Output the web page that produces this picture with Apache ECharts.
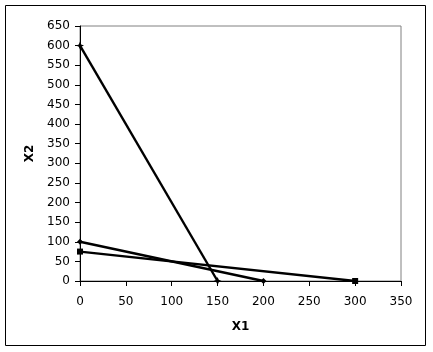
<!DOCTYPE html>
<html><head><meta charset="utf-8">
<script src="https://cdn.jsdelivr.net/npm/echarts@6/dist/echarts.min.js"></script>
<style>html,body{margin:0;padding:0;background:#fff}#c{width:433px;height:352px}</style>
</head><body><div id="c"></div>
<script>
const xTicks = [0, 50, 100, 150, 200, 250, 300, 350];
const yTicks = [0, 50, 100, 150, 200, 250, 300, 350, 400, 450, 500, 550, 600, 650];
const line1X = [0, 150];
const line1Y = [600, 0];
const line2X = [0, 200];
const line2Y = [100, 0];
const line3X = [0, 300];
const line3Y = [75, 0];

const chart = echarts.init(document.getElementById('c'));
const font = 'DejaVu Sans';
function pts(xs, ys){ return xs.map((x,i)=>[x, ys[i]]); }
const lineStyle = {color:'#000', width:2.4};
chart.setOption({
  animation:false,
  graphic:[{type:'rect', shape:{x:5.5,y:5.5,width:420,height:340}, style:{fill:'none', stroke:'#000', lineWidth:1}}],
  grid:{left:80, top:26, right:32, bottom:71, show:true, borderColor:'#808080', borderWidth:1},
  xAxis:{type:'value', min:xTicks[0], max:xTicks[xTicks.length-1], interval:50,
    name:'X1', nameLocation:'middle', nameGap:40,
    nameTextStyle:{fontFamily:font, fontSize:12, fontWeight:'bold', color:'#000'},
    axisLine:{show:true, lineStyle:{color:'#000'}},
    axisTick:{show:true, length:5, lineStyle:{color:'#000'}},
    axisLabel:{fontFamily:font, fontSize:12, color:'#000', margin:15},
    splitLine:{show:false}},
  yAxis:{type:'value', min:yTicks[0], max:yTicks[yTicks.length-1], interval:50,
    name:'X2', nameLocation:'middle', nameGap:43, nameRotate:90,
    nameTextStyle:{fontFamily:font, fontSize:12, fontWeight:'bold', color:'#000'},
    axisLine:{show:true, lineStyle:{color:'#000'}},
    axisTick:{show:true, length:5, lineStyle:{color:'#000'}},
    axisLabel:{fontFamily:font, fontSize:12, color:'#000', margin:10},
    splitLine:{show:false}},
  series:[
    {type:'line', data:pts(line1X,line1Y), symbol:'path://M0,-1L0.3,-0.3L1,0L0.3,0.3L0,1L-0.3,0.3L-1,0L-0.3,-0.3Z', symbolSize:8, itemStyle:{color:'#000'}, lineStyle:lineStyle},
    {type:'line', data:pts(line2X,line2Y), symbol:'diamond', symbolSize:6, itemStyle:{color:'#000'}, lineStyle:lineStyle},
    {type:'line', data:pts(line3X,line3Y), symbol:'rect', symbolSize:6, itemStyle:{color:'#000'}, lineStyle:lineStyle}
  ]
});
</script></body></html>
